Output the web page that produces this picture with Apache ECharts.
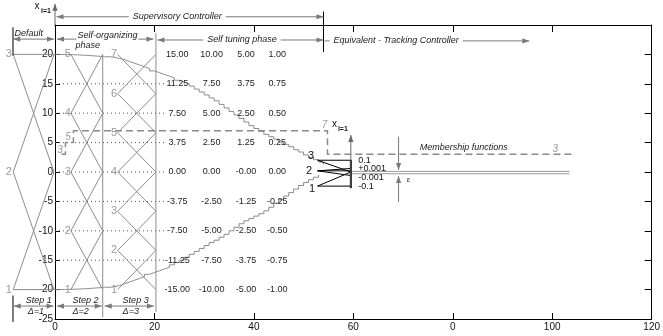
<!DOCTYPE html>
<html>
<head>
<meta charset="utf-8">
<script src="https://cdn.jsdelivr.net/npm/echarts@6/dist/echarts.min.js"></script>
<style>
html, body { margin: 0; padding: 0; background: #fff; }
#chart { width: 663px; height: 336px; }
</style>
</head>
<body>
<div id="chart"></div>
<script>
// ---- axis ticks ----
const xTickValues = [0, 20, 40, 60, 80, 100, 120];
const xTickLabels = ['0', '20', '40', '60', '0', '100', '120'];
const yTickValues = [-25, -20, -15, -10, -5, 0, 5, 10, 15, 20, 25];
const yTickLabels = ['-25', '-20', '-15', '-10', '-5', '0', '5', '10', '15', '20', ''];

// ---- membership function centres for each phase ----
const defaultCentres = [20, 0, -20];
const defaultNames = ['3', '2', '1'];
const step2Centres = [20, 10, 0, -10, -20];
const step2Names = ['5', '4', '3', '2', '1'];
const step3Centres = [20, 13.33, 6.67, 0, -6.67, -13.33, -20];
const step3Names = ['7', '6', '5', '4', '3', '2', '1'];

// ---- self tuning table: scaled centres per tuning stage ----
const tableRows = [20, 15, 10, 5, 0, -5, -10, -15, -20];
const tableStage1 = ['15.00', '11.25', '7.50', '3.75', '0.00', '-3.75', '-7.50', '-11.25', '-15.00'];
const tableStage2 = ['10.00', '7.50', '5.00', '2.50', '0.00', '-2.50', '-5.00', '-7.50', '-10.00'];
const tableStage3 = ['5.00', '3.75', '2.50', '1.25', '-0.00', '-1.25', '-2.50', '-3.75', '-5.00'];
const tableStage4 = ['1.00', '0.75', '0.50', '0.25', '0.00', '-0.25', '-0.50', '-0.75', '-1.00'];
const dottedLevels = [15, 10, 5, 0, -5, -10, -15];

// ---- outer membership envelope (upper / lower) ----
const envSmoothX = [0, 5, 10];
const envSmoothUpper = [20, 19.9, 19.6];
const envSmoothLower = [-20, -19.9, -19.6];
const envStepX = [10, 11, 12, 13, 14, 15, 16, 17, 18, 19, 20, 21, 22, 23, 24, 25, 26, 27, 28, 29, 30,
  31, 32, 33, 34, 35, 36, 37, 38, 39, 40, 41, 42, 43, 44, 45, 46, 47, 48, 49, 50, 51, 52, 53, 54];
const envStepUpper = [19.6, 19.5, 19.3, 19.1, 18.8, 18.5, 18.2, 17.9, 17.6, 17.2, 16.9, 16.6, 16.3, 16.0,
  15.6, 15.3, 15.0, 14.6, 14.1, 13.6, 13.1, 12.6, 12.1, 11.5, 10.9, 10.3, 9.7, 9.1, 8.5, 7.9, 7.4, 6.9,
  6.4, 6.0, 5.6, 5.1, 4.7, 4.3, 3.8, 3.4, 2.9, 2.5, 2.1, 1.7, 1.3];
const envStepLower = [-19.6, -19.5, -19.3, -19.0, -18.7, -18.4, -18.1, -17.8, -17.4, -17.1, -16.8, -16.5,
  -16.2, -15.8, -15.4, -15.0, -14.5, -14.0, -13.5, -13.0, -12.5, -12.0, -11.6, -11.1, -10.6, -10.0, -9.4,
  -8.8, -8.3, -7.9, -7.5, -7.1, -6.6, -6.0, -5.3, -4.7, -4.1, -3.5, -2.9, -2.3, -1.8, -1.3, -0.9, -0.5];

// ---- number of membership functions over the run ----
const mfCountX = [1.3, 2.1, 3.7, 54.8, 104.4];
const mfCountY = [3, 5, 7, 3, 3];

// ---- tracking controller local scale ----
const trackScaleLabels = ['0.1', '+0.001', '-0.001', '-0.1'];
const trackScaleY = [1.87, 0.51, -1.02, -2.55];

// ---- layout (data units) ----
const defBand = [-8.4, -0.2];
const step2Band = [3.2, 9.6];
const step3Band = [12.6, 20.3];
const tableColX = [24.6, 31.5, 38.4, 44.7];

const GRAY = '#8d8d8d';
const ANN = '#7a7a7a';
const FONT = '"Liberation Sans", Arial, sans-serif';

function crossSegments(centres, band) {
  const segs = [];
  for (let i = 0; i < centres.length - 1; i++) {
    segs.push([band[0], centres[i], band[1], centres[i + 1]]);
    segs.push([band[1], centres[i], band[0], centres[i + 1]]);
  }
  return segs;
}

function segSeries(segs, style, z) {
  return {
    type: 'custom', silent: true, clip: false, z: z || 3,
    data: segs.map(s => [s[0], s[1], s[2], s[3]]),
    encode: { x: [0, 2], y: [1, 3] },
    renderItem: (params, api) => {
      const a = api.coord([api.value(0), api.value(1)]);
      const b = api.coord([api.value(2), api.value(3)]);
      return { type: 'line', shape: { x1: a[0], y1: a[1], x2: b[0], y2: b[1] },
        style: Object.assign({ fill: null }, style) };
    }
  };
}

function head(tip, from, color) {
  const dx = tip[0] - from[0], dy = tip[1] - from[1];
  const L = Math.hypot(dx, dy) || 1;
  const ux = dx / L, uy = dy / L, len = 7, half = 2.6;
  const bx = tip[0] - ux * len, by = tip[1] - uy * len;
  return { type: 'polygon', shape: { points: [[tip[0], tip[1]], [bx - uy * half, by + ux * half], [bx + uy * half, by - ux * half]] },
    style: { fill: color } };
}

// arrows: [x1, y1, x2, y2, headAtStart, headAtEnd]
function arrowSeries(arrows, color, z) {
  return {
    type: 'custom', silent: true, clip: false, z: z || 3,
    data: arrows.map(s => [s[0], s[1], s[2], s[3]]),
    encode: { x: [0, 2], y: [1, 3] },
    renderItem: (params, api) => {
      const s = arrows[params.dataIndex];
      const a = api.coord([s[0], s[1]]);
      const b = api.coord([s[2], s[3]]);
      const children = [{ type: 'line', shape: { x1: a[0], y1: a[1], x2: b[0], y2: b[1] },
        style: { stroke: color, lineWidth: 1 } }];
      if (s[4]) children.push(head(a, b, color));
      if (s[5]) children.push(head(b, a, color));
      return { type: 'group', children };
    }
  };
}

function textSeries(items, z) {
  return {
    type: 'custom', silent: true, clip: false, z: z || 6,
    data: items.map(t => [t.x, t.y]),
    renderItem: (params, api) => {
      const t = items[params.dataIndex];
      const p = api.coord([api.value(0), api.value(1)]);
      return { type: 'text', x: p[0], y: p[1], z2: 10,
        style: { text: t.text, font: t.font || ('10px ' + FONT), fill: t.color || '#222',
          align: t.align || 'center', verticalAlign: 'middle',
          backgroundColor: t.bg || null, padding: t.pad || 0 } };
    }
  };
}

// ---- membership function line work ----
const mfSegs = []
  .concat(crossSegments(defaultCentres, defBand))
  .concat([[defBand[0], 20, 0, 20], [defBand[0], -20, 0, -20]])
  .concat(crossSegments(step2Centres, step2Band))
  .concat(crossSegments(step3Centres, step3Band))
  .concat([[step2Band[1], 20, step2Band[1], -24.7], [step3Band[1], 23.6, step3Band[1], -23.8]]);

const dottedSegs = dottedLevels.map(v => [0, v, 22.4, v]);

const blackSegs = [
  [-8.45, 24.6, -8.45, 19.8],
  [-8.45, -21.0, -8.45, -25.5],
  [54.0, 27.3, 54.0, 20.4],
  // tracking membership functions
  [52.8, 2.0, 59.5, 2.0], [52.8, 2.0, 59.5, 0.0],
  [52.8, -2.4, 59.5, -2.4], [52.8, -2.4, 59.5, 0.0],
  [52.8, 0.2, 59.5, 0.6], [52.8, 0.2, 59.5, -0.6], [52.8, 0.2, 59.5, 0.2]
];
const barSegs = [[59.5, 2.05, 59.5, -2.75]];
const bandSegs = [[59.5, 0.1, 103.5, 0.1], [59.5, -0.3, 103.5, -0.3]];

const annArrows = [
  [0.3, 26.4, 54.0, 26.4, 1, 1],
  [-8.4, 22.6, -0.2, 22.6, 1, 1],
  [0.4, 22.6, 19.8, 22.6, 1, 1],
  [20.6, 22.45, 54.0, 22.45, 1, 1],
  [54.2, 22.3, 95.4, 22.3, 0, 1],
  [-8.3, -22.8, -0.3, -22.8, 1, 1],
  [0.4, -22.8, 9.4, -22.8, 1, 1],
  [10.0, -22.8, 19.9, -22.8, 1, 1],
  [69.1, 6.0, 69.1, 0.35, 0, 1],
  [69.1, -5.1, 69.1, -0.7, 0, 1]
];
const axisArrows = [
  [0, 25, 0, 28.6, 0, 1],
  [59.5, -2.7, 59.5, 6.3, 0, 1]
];

// ---- texts ----
const it9 = 'italic 9px ' + FONT;
const texts = [];
const mfFont = '11px ' + FONT;
defaultCentres.forEach((c, i) => texts.push({ x: -9.3, y: c, text: defaultNames[i], color: '#9a9a9a', font: mfFont }));
step2Centres.forEach((c, i) => texts.push({ x: 2.6, y: c, text: step2Names[i], color: '#9a9a9a', font: mfFont }));
step3Centres.forEach((c, i) => texts.push({ x: 11.9, y: c, text: step3Names[i], color: '#9a9a9a', font: mfFont }));
[tableStage1, tableStage2, tableStage3, tableStage4].forEach((col, ci) => {
  col.forEach((s, ri) => texts.push({ x: tableColX[ci], y: tableRows[ri], text: s, color: '#222', font: '9px ' + FONT }));
});
texts.push(
  { x: 24.6, y: 26.4, text: 'Supervisory Controller', font: it9, bg: '#fff', pad: [0, 4] },
  { x: -5.3, y: 23.6, text: 'Default', font: it9 },
  { x: 4.3, y: 23.2, text: 'Self-organizing', font: it9, align: 'left', bg: '#fff', pad: [0, 1] },
  { x: 3.9, y: 21.5, text: 'phase', font: it9, align: 'left', bg: '#fff', pad: [0, 1] },
  { x: 37.6, y: 22.45, text: 'Self tuning phase', font: it9, bg: '#fff', pad: [0, 4] },
  { x: 55.2, y: 22.3, text: 'Equivalent - Tracking Controller', font: it9, align: 'left', bg: '#fff', pad: [0, 4] },
  { x: -5.9, y: -21.9, text: 'Step 1', font: it9, align: 'left' },
  { x: -5.5, y: -23.7, text: 'Δ=1', font: it9, align: 'left' },
  { x: 3.5, y: -21.9, text: 'Step 2', font: it9, align: 'left' },
  { x: 3.5, y: -23.7, text: 'Δ=2', font: it9, align: 'left' },
  { x: 13.6, y: -21.9, text: 'Step 3', font: it9, align: 'left' },
  { x: 13.6, y: -23.7, text: 'Δ=3', font: it9, align: 'left' },
  { x: -3.6, y: 28.2, text: 'x', font: '10px ' + FONT, color: '#111' },
  { x: -1.8, y: 27.4, text: 'i=1', font: 'bold 7px ' + FONT, color: '#111' },
  { x: 56.2, y: 8.2, text: 'x', font: '10px ' + FONT, color: '#111' },
  { x: 57.9, y: 7.3, text: 'i=1', font: 'bold 7px ' + FONT, color: '#111' },
  { x: 82.2, y: 4.1, text: 'Membership functions', font: it9 },
  { x: 71.1, y: -1.3, text: 'ε', font: '8px ' + FONT, color: '#333' },
  { x: 51.5, y: 2.7, text: '3', font: mfFont, color: '#111' },
  { x: 51.1, y: 0.2, text: '2', font: mfFont, color: '#111' },
  { x: 51.7, y: -2.9, text: '1', font: mfFont, color: '#111' },
  { x: 1.0, y: 3.7, text: '3', font: 'italic 10px ' + FONT, color: '#9a9a9a' },
  { x: 2.6, y: 6.0, text: '5', font: 'italic 10px ' + FONT, color: '#9a9a9a' },
  { x: 54.2, y: 7.9, text: '7', font: 'italic 10px ' + FONT, color: '#9a9a9a' },
  { x: 100.6, y: 3.9, text: '3', font: 'italic 10px ' + FONT, color: '#9a9a9a' }
);
trackScaleLabels.forEach((s, i) => texts.push({ x: 61.0, y: trackScaleY[i], text: s, align: 'left', font: '9px ' + FONT, color: '#111' }));

const zip = (xs, ys) => ys.map((y, i) => [xs[i], y]);

const axisCommon = {
  type: 'value',
  splitLine: { show: false },
  axisLine: { show: true, onZero: false, lineStyle: { color: '#000', width: 1 } }
};

const option = {
  animation: false,
  backgroundColor: '#fff',
  grid: { left: 55, right: 2, top: 25, bottom: 17, containLabel: false },
  xAxis: [
    Object.assign({}, axisCommon, {
      min: 0, max: 120, interval: 20, position: 'bottom',
      axisTick: { show: true, inside: true, length: 6, lineStyle: { color: '#000' } },
      axisLabel: { show: true, margin: 3, color: '#111', fontSize: 10, fontFamily: 'Liberation Sans',
        showMinLabel: true, showMaxLabel: true, alignMinLabel: 'center', alignMaxLabel: 'center',
        formatter: v => { const i = xTickValues.indexOf(v); return i >= 0 ? xTickLabels[i] : ''; } }
    }),
    Object.assign({}, axisCommon, {
      min: 0, max: 120, interval: 20, position: 'top',
      axisTick: { show: true, inside: true, length: 7, lineStyle: { color: '#000' } },
      axisLabel: { show: false }
    })
  ],
  yAxis: [
    Object.assign({}, axisCommon, {
      min: -25, max: 25, interval: 5, position: 'left',
      axisTick: { show: true, inside: true, length: 5, lineStyle: { color: '#000' } },
      axisLabel: { show: true, margin: 2, color: '#111', fontSize: 10, fontFamily: 'Liberation Sans',
        showMinLabel: true, showMaxLabel: true,
        formatter: v => { const i = yTickValues.indexOf(v); return i >= 0 ? yTickLabels[i] : ''; } }
    }),
    Object.assign({}, axisCommon, {
      min: -25, max: 25, interval: 5, position: 'right',
      axisTick: { show: true, inside: true, length: 7, lineStyle: { color: '#000' } },
      axisLabel: { show: false }
    })
  ],
  series: [
    segSeries(dottedSegs, { stroke: '#555', lineWidth: 1, lineDash: [1, 3] }, 2),
    segSeries(mfSegs, { stroke: GRAY, lineWidth: 1 }, 3),
    { type: 'line', data: zip(envSmoothX, envSmoothUpper), smooth: true, symbol: 'none', silent: true, z: 3,
      lineStyle: { color: GRAY, width: 1 } },
    { type: 'line', data: zip(envSmoothX, envSmoothLower), smooth: true, symbol: 'none', silent: true, z: 3,
      lineStyle: { color: GRAY, width: 1 } },
    { type: 'line', data: zip(envStepX, envStepUpper), step: 'end', symbol: 'none', silent: true, z: 3,
      lineStyle: { color: GRAY, width: 1 } },
    { type: 'line', data: zip(envStepX, envStepLower), step: 'end', symbol: 'none', silent: true, z: 3,
      lineStyle: { color: GRAY, width: 1 } },
    { type: 'line', data: zip(mfCountX, mfCountY), step: 'end', symbol: 'none', silent: true, z: 4,
      lineStyle: { color: '#8a8a8a', width: 1.5, type: [7, 4] } },
    segSeries(bandSegs, { stroke: '#9a9a9a', lineWidth: 1 }, 3),
    segSeries(blackSegs, { stroke: '#000', lineWidth: 1 }, 4),
    segSeries(barSegs, { stroke: '#000', lineWidth: 2 }, 4),
    arrowSeries(annArrows, ANN, 4),
    arrowSeries(axisArrows, '#666', 4),
    textSeries(texts, 6)
  ]
};

const chart = echarts.init(document.getElementById('chart'));
chart.setOption(option);
</script>
</body>
</html>
